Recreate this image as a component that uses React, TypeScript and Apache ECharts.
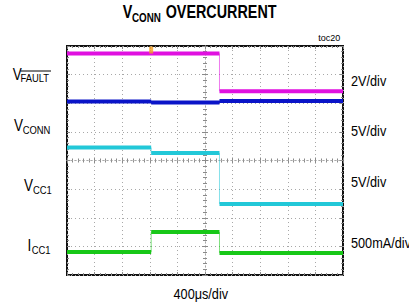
import React, { useEffect, useRef } from "react";
import * as echarts from "echarts";

// time axis: 400 µs/div, 10 divisions, trigger-centred
const segTimes = [-2000, -780, 210, 2000]; // µs, boundaries of the three level segments
// trace levels in screen divisions (centre = 0, ±4 div)
const vFaultDiv = [3.74, 3.74, 2.42];
const vConnDiv = [2.06, 2.03, 2.08];
const vcc1Div = [0.45, 0.26, -1.52];
const icc1Div = [-3.2, -2.5, -3.23];
const triggerPoint = [-780, 3.86];

const traceNames = ["VFAULT", "VCONN", "VCC1", "ICC1"];
const traceLevels = [vFaultDiv, vConnDiv, vcc1Div, icc1Div];
const traceColors = ["#e010e0", "#0a14c8", "#22c8d8", "#18c818"];
const scaleLabels = ["2V/div", "5V/div", "5V/div", "500mA/div"];

const FONT = "Liberation Sans, Arial, sans-serif";
const NARROW = 0.82;

function levelData(levels: number[]) {
  const out: any[] = [];
  for (let i = 0; i < levels.length; i++) {
    out.push([segTimes[i], levels[i]]);
    out.push([segTimes[i + 1], levels[i]]);
    out.push(["-", "-"]);
  }
  return out;
}
function edgeData(levels: number[]) {
  const out: any[] = [];
  for (let i = 1; i < levels.length; i++) {
    out.push([segTimes[i], levels[i - 1]]);
    out.push([segTimes[i], levels[i]]);
    out.push(["-", "-"]);
  }
  return out;
}

function txt(text: string, x: number, y: number, size: number, opts: any = {}) {
  const align = opts.align || "left";
  return {
    type: "text",
    x,
    y,
    scaleX: opts.scaleX ?? NARROW,
    z: 100,
    style: {
      text,
      fill: "#000",
      fontFamily: FONT,
      fontSize: size,
      fontWeight: opts.bold ? "bold" : "normal",
      align,
      textAlign: align,
      verticalAlign: "middle",
      textVerticalAlign: "middle",
    },
  };
}

export default function App() {
  const ref = useRef<HTMLDivElement>(null);
  useEffect(() => {
    if (!ref.current) return;
    const chart = echarts.init(ref.current, undefined, { renderer: "svg" });
    const dotted = { color: "#a8a8a8", width: 1, type: [1, 3] as any };
    const baseX = {
      type: "value",
      min: -2000,
      max: 2000,
      interval: 400,
      axisLabel: { show: false },
      axisLine: { show: false, onZero: false },
      axisTick: { show: false },
      minorTick: { show: false },
      splitLine: { show: false },
    };
    const baseY = {
      type: "value",
      min: -4,
      max: 4,
      interval: 1,
      axisLabel: { show: false },
      axisLine: { show: false, onZero: false },
      axisTick: { show: false },
      minorTick: { show: false },
      splitLine: { show: false },
    };
    const tickStyle = { color: "#8a8a8a", width: 1 };
    const centerX = (inside: boolean) => ({
      ...baseX,
      position: "bottom",
      offset: -114.5,
      axisLine: { show: true, onZero: false, lineStyle: dotted },
      axisTick: { show: true, inside, length: 3, lineStyle: tickStyle },
      minorTick: { show: true, splitNumber: 5, length: 2, lineStyle: tickStyle },
    });
    const centerY = (inside: boolean) => ({
      ...baseY,
      position: "left",
      offset: -138,
      axisLine: { show: true, onZero: false, lineStyle: dotted },
      axisTick: { show: true, inside, length: 3, lineStyle: tickStyle },
      minorTick: { show: true, splitNumber: 5, length: 2, lineStyle: tickStyle },
    });
    const borderX = (position: string) => ({
      ...baseX,
      position,
      axisTick: { show: true, inside: true, length: 3, lineStyle: tickStyle },
      minorTick: { show: true, splitNumber: 5, length: 2, lineStyle: tickStyle },
    });
    const borderY = (position: string) => ({
      ...baseY,
      position,
      axisTick: { show: true, inside: true, length: 3, lineStyle: tickStyle },
      minorTick: { show: true, splitNumber: 5, length: 2, lineStyle: tickStyle },
    });

    const series: any[] = [];
    traceLevels.forEach((lv, i) => {
      series.push({
        name: traceNames[i] + " edge",
        type: "line",
        data: edgeData(lv),
        showSymbol: false,
        symbol: "none",
        connectNulls: false,
        lineStyle: { color: traceColors[i], width: 1, opacity: 0.55 },
        z: 3,
      });
    });
    traceLevels.forEach((lv, i) => {
      series.push({
        name: traceNames[i],
        type: "line",
        data: levelData(lv),
        showSymbol: false,
        symbol: "none",
        connectNulls: false,
        lineStyle: { color: traceColors[i], width: 4 },
        z: 4,
      });
    });
    series.push({
      name: "trigger",
      type: "scatter",
      data: [triggerPoint],
      symbol: "rect",
      symbolSize: [4, 7],
      itemStyle: { color: "#f5a020" },
      z: 5,
    });

    const labelSpecs = [
      { main: "V", sub: "FAULT", x: 12.7, y: 74, sx: 20.5, sy: 78, over: true },
      { main: "V", sub: "CONN", x: 14, y: 125, sx: 22.7, sy: 129.3 },
      { main: "V", sub: "CC1", x: 24, y: 184.7, sx: 33, sy: 189.2 },
      { main: "I", sub: "CC1", x: 27.5, y: 244.7, sx: 31.7, sy: 249.5 },
    ];
    const rightY = [81, 131, 181.7, 242.5];
    const graphic: any[] = [
      txt("V", 122.7, 11.7, 17.5, { bold: true }),
      txt("CONN", 132, 17.5, 12, { bold: true }),
      txt("OVERCURRENT", 165.7, 11.7, 17.5, { bold: true }),
      txt("toc20", 318.3, 38, 9, { scaleX: 1 }),
      txt("400μs/div", 200.8, 294, 15.5, { align: "center" }),
    ];
    labelSpecs.forEach((l) => {
      graphic.push(txt(l.main, l.x, l.y, 16.5));
      graphic.push(txt(l.sub, l.sx, l.sy, 11.5));
      if (l.over) {
        graphic.push({
          type: "line",
          shape: { x1: l.sx, y1: 71, x2: l.sx + 30.5, y2: 71 },
          style: { stroke: "#000", lineWidth: 1 },
          z: 100,
        });
      }
    });
    scaleLabels.forEach((s, i) => graphic.push(txt(s, 351, rightY[i], 15.5)));

    chart.setOption({
      animation: false,
      backgroundColor: "#ffffff",
      grid: {
        left: 67,
        top: 46,
        width: 276,
        height: 229,
        show: true,
        borderColor: "#111",
        borderWidth: 2,
        backgroundColor: "transparent",
      },
      xAxis: [
        {
          ...baseX,
          position: "bottom",
          splitLine: { show: true, lineStyle: dotted },
          axisTick: { show: true, inside: true, length: 3, lineStyle: tickStyle },
          minorTick: { show: true, splitNumber: 5, length: 2, lineStyle: tickStyle },
        },
        borderX("top"),
        centerX(true),
        centerX(false),
      ],
      yAxis: [
        {
          ...baseY,
          position: "left",
          splitLine: { show: true, lineStyle: dotted },
          axisTick: { show: true, inside: true, length: 3, lineStyle: tickStyle },
          minorTick: { show: true, splitNumber: 5, length: 2, lineStyle: tickStyle },
        },
        borderY("right"),
        centerY(true),
        centerY(false),
      ],
      series,
      graphic,
    });
    return () => chart.dispose();
  }, []);
  return (
    <div
      ref={ref}
      style={{ position: "absolute", left: 0, top: 0, width: 409, height: 305, background: "#fff" }}
    />
  );
}
